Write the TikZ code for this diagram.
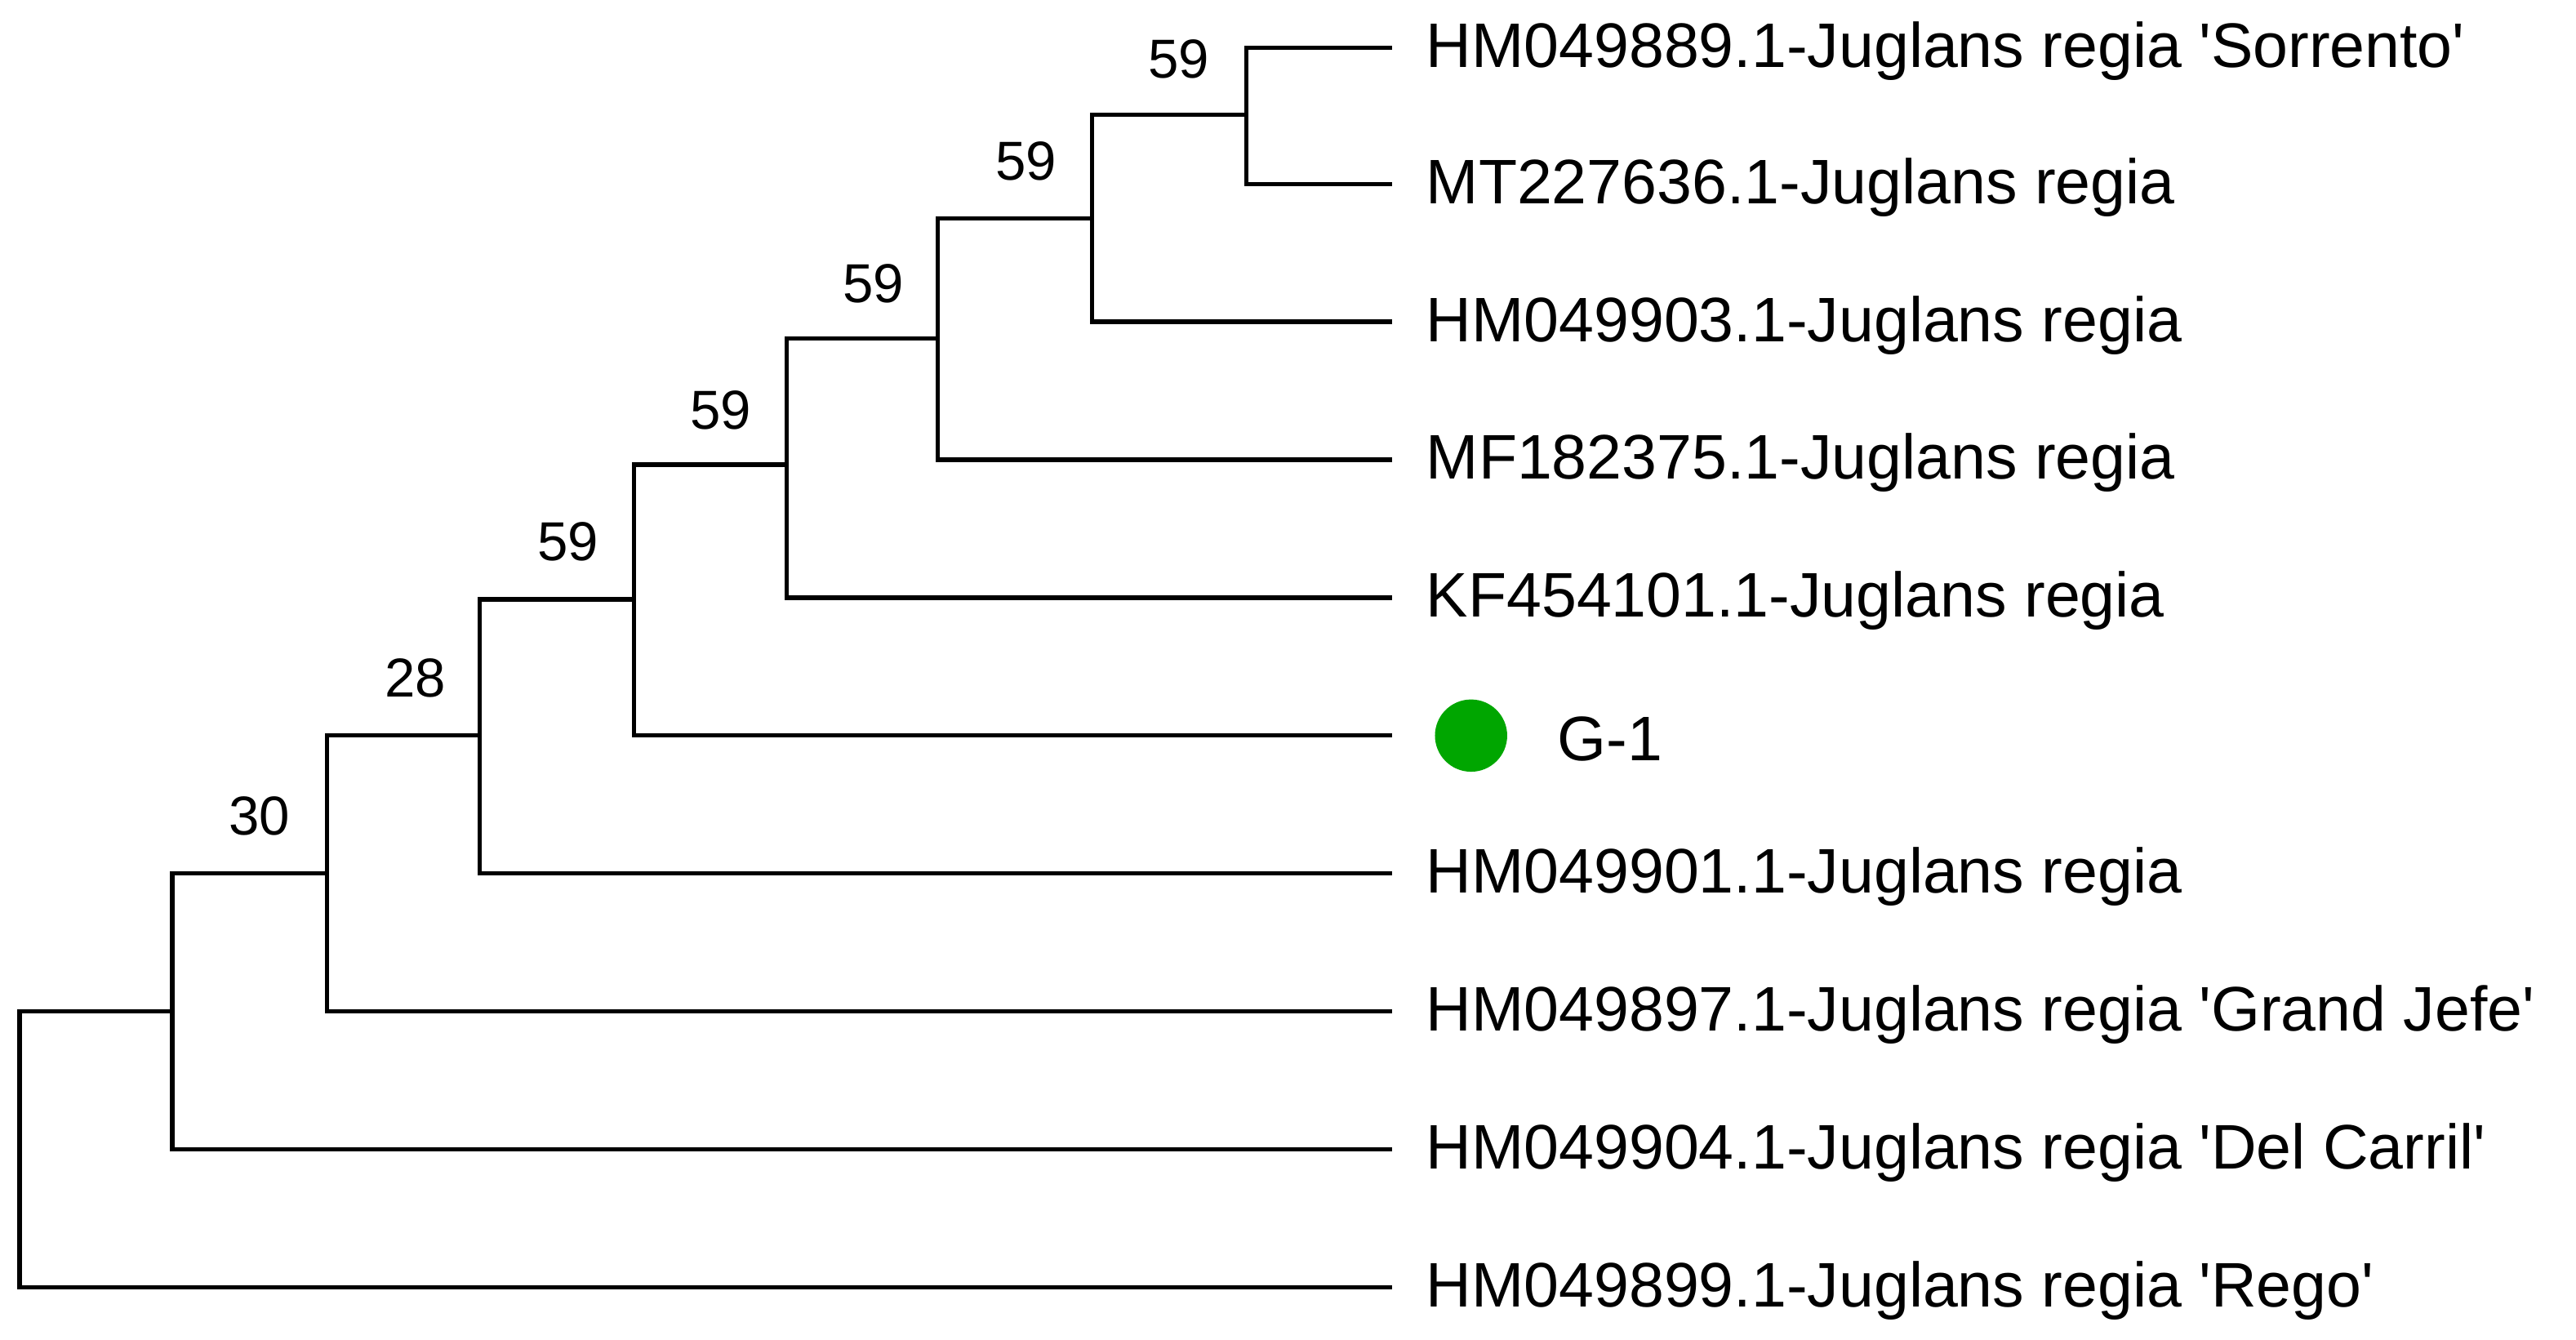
\documentclass[tikz,border=0pt]{standalone}
\usepackage{fontspec}
\setmainfont{Liberation Sans}
\newcommand{\sq}{\textquotesingle}
\begin{document}
\begin{tikzpicture}[x=0.01cm,y=-0.01cm,
  br/.style={line width=0.75pt,black},
  leaf/.style={anchor=west,font=\fontsize{10.9}{12}\selectfont,inner sep=0pt},
  boot/.style={font=\fontsize{9.5}{11}\selectfont,inner sep=0pt}]
\useasboundingbox (0,0) rectangle (1569,816);
% leaves
\foreach \n/\y/\t in {l1/29/{HM049889.1-Juglans regia \sq Sorrento\sq},l2/112/{MT227636.1-Juglans regia},l3/196/{HM049903.1-Juglans regia},l4/280/{MF182375.1-Juglans regia},l5/364/{KF454101.1-Juglans regia},l7/532/{HM049901.1-Juglans regia},l8/616/{HM049897.1-Juglans regia \sq Grand Jefe\sq},l9/700/{HM049904.1-Juglans regia \sq Del Carril\sq},l10/784/{HM049899.1-Juglans regia \sq Rego\sq}}{
  \coordinate (e\n) at (848,\y);
  \node[leaf] (\n) at (868,\y+2) {\t};
}
\coordinate (el6) at (848,448);
\fill[green!65!black] (896,448) circle (22);
\node[leaf] (l6) at (948,450) {G-1};
% internal nodes
\coordinate (n1) at (759,70);
\coordinate (n2) at (665,133);
\coordinate (n3) at (571,206);
\coordinate (n4) at (479,283);
\coordinate (n5) at (386,365);
\coordinate (n6) at (292,448);
\coordinate (n7) at (199,532);
\coordinate (n8) at (105,616);
\coordinate (n9) at (12,700);
\draw[br] (el1) -| (n1) |- (el2);
\draw[br] (n1) -| (n2) |- (el3);
\draw[br] (n2) -| (n3) |- (el4);
\draw[br] (n3) -| (n4) |- (el5);
\draw[br] (n4) -| (n5) |- (el6);
\draw[br] (n5) -| (n6) |- (el7);
\draw[br] (n6) -| (n7) |- (el8);
\draw[br] (n7) -| (n8) |- (el9);
\draw[br] (n8) -| (n9) |- (el10);
% bootstrap values
\node[boot] at (718,36) {59};
\node[boot] at (625,98) {59};
\node[boot] at (532,173) {59};
\node[boot] at (439,250) {59};
\node[boot] at (346,330) {59};
\node[boot] at (253,413) {28};
\node[boot] at (158,497) {30};
\end{tikzpicture}
\end{document}
